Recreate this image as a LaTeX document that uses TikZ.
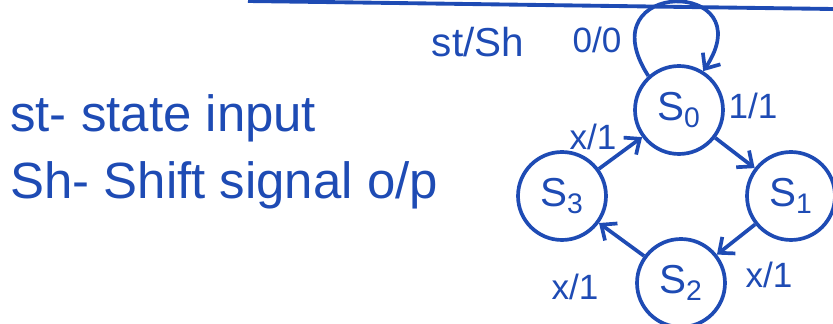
\documentclass[tikz,border=0pt]{standalone}
\usepackage{fontspec}
\setmainfont{Liberation Sans}
\usetikzlibrary{arrows.meta}
\definecolor{inkblue}{HTML}{1E4BB4}

\begin{document}
\begin{tikzpicture}[
    x=0.02cm, y=-0.02cm,
    color=inkblue,
    state/.style={circle, draw=inkblue, line width=2.1pt, minimum size=1.76cm,
      inner sep=0pt, font=\fontsize{23}{25}\selectfont},
    lbl/.style={font=\fontsize{20}{22}\selectfont, inner sep=1pt},
    legend/.style={font=\fontsize{29}{32}\selectfont, anchor=base west, inner sep=0pt},
    arr/.style={-{Straight Barb[length=7pt,width=12pt]}, line width=2.1pt, draw=inkblue}
  ]
    \useasboundingbox (0,0) rectangle (833,324);

    % top rule
    \draw[line width=2.2pt] (248,1) -- (833,9);

    \node[state] (s0) at (679,110) {S\textsubscript{0}};
    \node[state] (s1) at (791,196) {S\textsubscript{1}};
    \node[state] (s2) at (681,283) {S\textsubscript{2}};
    \node[state] (s3) at (562,196) {S\textsubscript{3}};

    \draw[arr] (s0.132) .. controls (585,-22) and (765,-22) .. (s0.58);
    \draw[arr] (s0) -- (s1);
    \draw[arr] (s1) -- (s2);
    \draw[arr] (s2) -- (s3);
    \draw[arr] (s3) -- (s0);

    \node[lbl, font=\fontsize{23}{25}\selectfont] (io) at (478,42) {st/Sh};
    \node[lbl] (l00) at (597,40) {0/0};
    \node[lbl] (l01) at (753,106) {1/1};
    \node[lbl] (l30) at (593,137) {x/1};
    \node[lbl] (l12) at (769,275) {x/1};
    \node[lbl] (l23) at (575,287) {x/1};

    \node[legend] (st) at (10,132) {st- state input};
    \node[legend] (sh) at (10,199) {Sh- Shift signal o/p};
  \end{tikzpicture}
\end{document}
